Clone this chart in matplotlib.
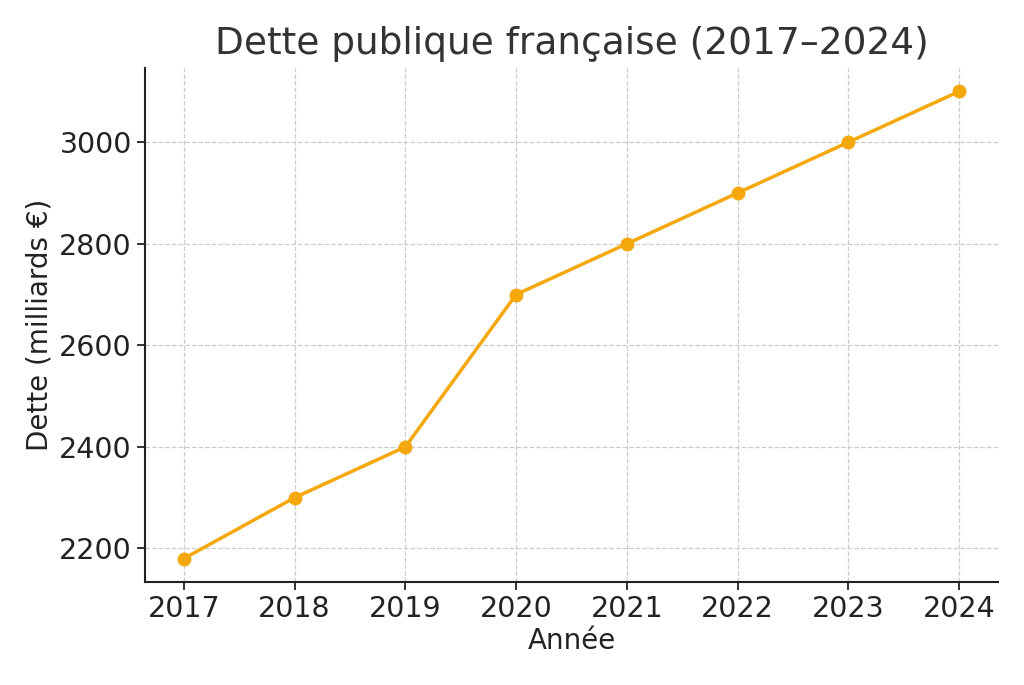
import matplotlib
matplotlib.use("Agg")
import matplotlib.pyplot as plt

years = [2017, 2018, 2019, 2020, 2021, 2022, 2023, 2024]
dette = [2180, 2300, 2400, 2700, 2800, 2900, 3000, 3100]

fig = plt.figure(figsize=(10.24, 6.85), dpi=100)
ax = fig.add_axes([0.1416, 0.1504, 0.833, 0.7503])

ax.plot(years, dette, color="#F5A80C", linewidth=2.5, marker="o", markersize=9)

ax.set_title("Dette publique française (2017–2024)", fontsize=27, color="#333333", pad=10)
ax.set_xlabel("Année", fontsize=20, color="#222222", labelpad=3)
ax.set_ylabel("Dette (milliards €)", fontsize=20, color="#222222", labelpad=4)
ax.set_xticks(years)
ax.set_yticks([2200, 2400, 2600, 2800, 3000])
ax.tick_params(labelsize=20.5, colors="#222222", width=1.3, length=6)

ax.grid(True, linestyle="--", color="#cccccc", linewidth=0.9)
ax.set_axisbelow(True)
ax.spines["top"].set_visible(False)
ax.spines["right"].set_visible(False)
for s in ["left", "bottom"]:
    ax.spines[s].set_linewidth(1.5)
    ax.spines[s].set_color("#222222")

fig.savefig("out.png", dpi=100)
